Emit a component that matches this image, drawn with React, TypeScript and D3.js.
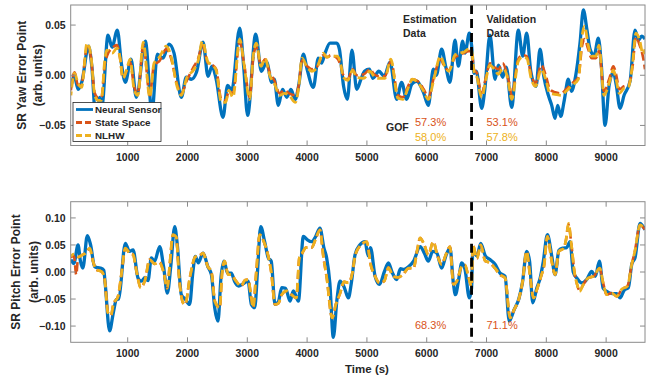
import React from 'react'
import * as d3 from 'd3'

type Pt = [number, number]

// ---- data (time in s, value in arb. units) ----
const xTicks = [1000, 2000, 3000, 4000, 5000, 6000, 7000, 8000, 9000]
const yawTicks = [-0.05, 0, 0.05]
const pitchTicks = [-0.1, -0.05, 0, 0.05, 0.1]
const splitTime = 6750
const legendNames = ['Neural Sensor', 'State Space', 'NLHW']
const yawGofSS = ['57.3%', '53.1%']
const yawGofNLHW = ['58.0%', '57.8%']
const pitchGofSS = ['68.3%', '71.1%']

const yawNeural: Pt[] = [
  [50, -0.011], [110, -0.001], [170, -0.014], [236, -0.006], [345, 0.029], [400, 0.009], [476, -0.052],
  [530, -0.022], [570, -0.03], [671, 0.04], [738, 0.028], [827, 0.045], [894, 0.012], [961, -0.007],
  [1055, 0.016], [1144, -0.022], [1295, 0.034], [1406, -0.037], [1495, 0.021], [1590, 0.017], [1691, 0.031],
  [1775, 0.022], [1897, -0.022], [1980, -0.002], [2065, -0.004], [2150, 0.003], [2260, 0.033], [2343, -0.001],
  [2410, 0.009], [2480, -0.004], [2594, -0.042], [2670, -0.01], [2740, -0.015], [2873, 0.047], [2940, 0.008],
  [3005, -0.04], [3140, 0.041], [3235, 0.004], [3324, 0.013], [3408, -0.007], [3450, -0.004], [3519, -0.03],
  [3590, -0.014], [3660, -0.022], [3730, -0.014], [3800, -0.024], [3860, -0.01], [3937, 0.021], [4000, 0.006],
  [4104, -0.012], [4188, 0.017], [4240, 0.012], [4300, 0.022], [4383, 0.032], [4495, 0.032], [4540, 0.026],
  [4610, -0.011], [4673, -0.024], [4750, 0.025], [4829, -0.014], [4900, -0.004], [4960, 0.004], [5041, 0.006],
  [5100, -0.003], [5200, 0.004], [5290, -0.001], [5386, 0.013], [5498, -0.024], [5580, -0.007], [5665, -0.024],
  [5750, -0.009], [5835, -0.006], [5945, -0.017], [6027, -0.03], [6110, 0.006], [6160, 0.0], [6250, 0.026],
  [6320, 0.008], [6389, -0.007], [6473, 0.035], [6529, 0.009], [6602, 0.034], [6640, 0.022], [6713, 0.042],
  [6750, 0.03], [6790, 0.002], [6830, 0.004], [6919, -0.033], [6970, -0.015], [7058, 0.04], [7142, -0.004],
  [7200, 0.01], [7270, -0.002], [7330, 0.008], [7421, -0.032], [7532, 0.045], [7605, 0.019], [7672, 0.042],
  [7740, 0.004], [7828, -0.011], [7895, 0.026], [7960, -0.002], [8034, -0.02], [8090, -0.03], [8146, -0.043],
  [8190, -0.03], [8240, -0.041], [8300, -0.025], [8368, -0.004], [8420, -0.016], [8480, -0.004], [8563, 0.032],
  [8619, 0.065], [8680, 0.045], [8731, 0.026], [8800, 0.02], [8870, 0.037], [8920, 0.01], [8982, -0.05],
  [9050, -0.01], [9121, 0.003], [9170, -0.01], [9233, -0.033], [9300, -0.02], [9400, -0.006], [9483, 0.045],
  [9540, 0.035], [9595, 0.039], [9650, 0.036],
]

const yawSS: Pt[] = [
  [50, -0.015], [110, 0.003], [170, -0.01], [230, -0.008], [320, 0.028], [380, 0.02], [450, -0.018], [500, -0.022],
  [560, -0.022], [615, 0.01], [660, 0.02], [740, 0.027], [820, 0.03], [870, 0.018], [921, -0.003], [980, 0.004],
  [1040, 0.013], [1110, -0.012], [1170, -0.018], [1260, 0.03], [1370, -0.02], [1440, 0.01], [1530, 0.014],
  [1646, 0.026], [1720, 0.018], [1830, -0.01], [1897, -0.018], [1990, -0.005], [2100, 0.008], [2176, 0.016],
  [2250, 0.03], [2343, 0.012], [2420, 0.01], [2480, 0.006], [2566, -0.024], [2640, -0.025], [2690, -0.016],
  [2760, -0.018], [2873, 0.033], [2950, 0.01], [3040, -0.022], [3100, 0.018], [3150, 0.028], [3230, 0.01],
  [3296, 0.016], [3380, 0.002], [3450, -0.005], [3541, -0.018], [3620, -0.015], [3700, -0.018], [3804, -0.02],
  [3860, -0.01], [3915, 0.015], [4000, 0.009], [4080, 0.006], [4160, 0.008], [4271, 0.02], [4330, 0.018],
  [4400, 0.02], [4500, 0.017], [4560, 0.01], [4606, 0.0], [4680, -0.004], [4760, 0.006], [4829, 0.0],
  [4950, 0.001], [5050, 0.006], [5120, 0.001], [5200, -0.001], [5300, -0.001], [5400, 0.014], [5520, -0.02],
  [5600, -0.022], [5680, -0.012], [5760, -0.004], [5850, -0.006], [5950, -0.014], [6027, -0.022], [6120, -0.002],
  [6230, 0.016], [6300, 0.008], [6370, 0.005], [6473, 0.018], [6550, 0.02], [6620, 0.022], [6700, 0.024],
  [6750, 0.024], [6790, 0.006], [6840, 0.002], [6919, -0.018], [6990, -0.002], [7058, 0.012], [7130, 0.008],
  [7200, 0.006], [7270, 0.012], [7330, 0.004], [7380, -0.008], [7421, -0.02], [7532, 0.016], [7600, 0.02],
  [7672, 0.019], [7750, 0.0], [7817, -0.008], [7917, 0.01], [7990, 0.0], [8060, -0.014], [8150, -0.017],
  [8250, -0.018], [8330, -0.014], [8430, -0.008], [8535, -0.002], [8600, 0.03], [8640, 0.036], [8700, 0.026],
  [8760, 0.017], [8830, 0.017], [8880, 0.024], [8965, -0.016], [9050, -0.004], [9121, 0.009], [9170, 0.0],
  [9220, -0.014], [9300, -0.011], [9370, -0.01], [9440, 0.008], [9500, 0.038], [9560, 0.03], [9617, 0.018],
  [9650, 0.006],
]

const yawNLHW: Pt[] = [
  [50, -0.02], [110, 0.002], [170, -0.008], [230, -0.012], [320, 0.032], [380, 0.022], [450, -0.02], [500, -0.025],
  [560, -0.025], [615, 0.014], [650, 0.025], [740, 0.022], [820, 0.027], [870, 0.018], [921, -0.003], [980, 0.005],
  [1040, 0.016], [1110, -0.015], [1170, -0.02], [1260, 0.033], [1370, -0.022], [1440, 0.012], [1530, 0.018],
  [1646, 0.029], [1720, 0.02], [1830, -0.012], [1897, -0.02], [1990, -0.002], [2100, 0.005], [2176, 0.014],
  [2250, 0.034], [2343, 0.013], [2420, 0.01], [2480, 0.005], [2566, -0.027], [2640, -0.027], [2690, -0.015],
  [2760, -0.022], [2873, 0.036], [2950, 0.009], [3040, -0.024], [3100, 0.02], [3150, 0.032], [3230, 0.009],
  [3296, 0.017], [3380, -0.001], [3450, -0.008], [3541, -0.02], [3620, -0.018], [3700, -0.02], [3804, -0.027],
  [3860, -0.012], [3915, 0.017], [4000, 0.008], [4080, 0.004], [4160, 0.007], [4271, 0.022], [4330, 0.018],
  [4400, 0.019], [4500, 0.019], [4560, 0.012], [4606, -0.002], [4680, -0.005], [4760, 0.005], [4829, -0.002],
  [4950, -0.003], [5050, 0.004], [5120, -0.001], [5200, -0.003], [5300, -0.003], [5400, 0.016], [5520, -0.023],
  [5600, -0.024], [5680, -0.014], [5760, -0.004], [5850, -0.007], [5950, -0.016], [6027, -0.024], [6120, -0.004],
  [6230, 0.019], [6300, 0.009], [6370, 0.004], [6473, 0.02], [6550, 0.022], [6620, 0.023], [6700, 0.026],
  [6750, 0.025], [6790, 0.004], [6840, -0.002], [6919, -0.022], [6990, -0.004], [7058, 0.01], [7130, 0.006],
  [7200, 0.001], [7270, 0.007], [7330, 0.002], [7380, -0.012], [7421, -0.024], [7532, 0.014], [7600, 0.018],
  [7672, 0.017], [7750, -0.004], [7817, -0.011], [7917, 0.006], [7990, -0.004], [8060, -0.018], [8150, -0.019],
  [8250, -0.02], [8330, -0.016], [8430, -0.01], [8535, -0.004], [8600, 0.04], [8640, 0.049], [8700, 0.03],
  [8760, 0.019], [8830, 0.019], [8880, 0.03], [8965, -0.02], [9050, -0.008], [9121, 0.005], [9170, -0.005],
  [9220, -0.018], [9300, -0.013], [9370, -0.012], [9440, 0.01], [9500, 0.042], [9560, 0.035], [9617, 0.021],
  [9650, 0.026],
]

const pitchNeural: Pt[] = [
  [50, 0.023], [100, 0.016], [170, 0.05], [210, 0.02], [250, 0.007], [325, 0.067], [380, 0.05], [447, 0.01],
  [500, 0.008], [560, 0.007], [600, 0.003], [625, -0.023], [697, -0.109], [760, -0.075], [810, -0.051],
  [850, -0.05], [960, 0.053], [1030, 0.038], [1090, 0.041], [1172, -0.011], [1228, -0.017], [1290, -0.01],
  [1340, -0.016], [1395, 0.026], [1450, 0.02], [1535, 0.047], [1600, 0.01], [1663, -0.039], [1720, 0.01],
  [1786, 0.084], [1830, 0.05], [1897, -0.042], [1960, -0.05], [2036, -0.06], [2090, 0.0], [2131, 0.029],
  [2180, 0.017], [2260, 0.035], [2340, 0.01], [2400, -0.005], [2455, -0.066], [2510, -0.091], [2560, -0.01],
  [2610, 0.02], [2670, -0.002], [2733, -0.002], [2790, -0.018], [2856, -0.026], [2930, -0.022], [3012, -0.017],
  [3068, -0.06], [3124, -0.066], [3170, 0.0], [3224, 0.084], [3290, 0.056], [3351, 0.026], [3400, 0.02],
  [3463, -0.06], [3520, -0.055], [3575, -0.029], [3640, -0.03], [3714, -0.054], [3770, -0.035], [3854, -0.054],
  [3937, 0.066], [4000, 0.06], [4076, 0.056], [4140, 0.065], [4215, 0.081], [4280, 0.045], [4327, 0.026],
  [4380, -0.02], [4438, -0.121], [4500, -0.05], [4550, -0.017], [4620, -0.028], [4690, -0.048], [4740, -0.02],
  [4802, 0.032], [4880, 0.05], [4969, 0.056], [5020, 0.03], [5060, 0.045], [5137, -0.008], [5210, -0.023],
  [5290, 0.0], [5360, 0.017], [5420, 0.0], [5498, -0.014], [5560, 0.006], [5620, 0.005], [5700, 0.01],
  [5780, 0.02], [5890, 0.047], [5960, 0.035], [6027, 0.02], [6100, 0.038], [6170, 0.035], [6250, 0.007],
  [6320, 0.03], [6390, 0.044], [6445, -0.02], [6480, -0.042], [6540, -0.01], [6585, 0.017], [6640, 0.005],
  [6713, -0.048], [6750, -0.03], [6770, 0.038], [6840, 0.03], [6903, 0.053], [6980, 0.03], [7058, 0.023],
  [7140, 0.015], [7226, -0.002], [7310, -0.008], [7380, -0.091], [7460, -0.07], [7540, -0.05], [7600, -0.02],
  [7672, 0.038], [7720, 0.02], [7773, -0.057], [7840, -0.03], [7900, -0.01], [7950, 0.02], [8018, 0.069],
  [8090, 0.03], [8146, -0.005], [8210, 0.04], [8274, 0.044], [8340, 0.045], [8397, 0.056], [8450, 0.0],
  [8508, -0.011], [8590, -0.02], [8675, -0.014], [8759, 0.001], [8820, -0.008], [8888, 0.02], [8950, -0.03],
  [9010, -0.036], [9100, -0.04], [9180, -0.04], [9233, -0.048], [9300, -0.034], [9372, -0.029], [9430, 0.015],
  [9483, 0.026], [9567, 0.09], [9650, 0.078],
]

const pitchSS: Pt[] = [
  [50, 0.027], [100, 0.03], [140, -0.005], [170, 0.026], [250, 0.032], [300, 0.035], [365, 0.044], [420, 0.02],
  [475, 0.004], [560, 0.001], [610, -0.01], [670, -0.075], [720, -0.08], [760, -0.06], [838, -0.045], [900, 0.0],
  [960, 0.044], [1030, 0.035], [1090, 0.032], [1150, 0.0], [1217, -0.029], [1290, -0.015], [1367, 0.023],
  [1450, 0.015], [1530, 0.018], [1600, 0.0], [1663, -0.03], [1700, 0.01], [1758, 0.069], [1810, 0.065],
  [1860, -0.01], [1925, -0.057], [1960, -0.06], [2040, -0.01], [2131, 0.028], [2200, 0.03], [2260, 0.035],
  [2340, 0.01], [2400, 0.0], [2460, -0.055], [2538, -0.066], [2580, 0.0], [2620, 0.02], [2680, -0.005],
  [2733, -0.005], [2800, -0.015], [2900, -0.026], [2960, -0.015], [3012, -0.014], [3070, -0.05], [3096, -0.066],
  [3150, 0.0], [3207, 0.069], [3280, 0.055], [3351, 0.029], [3400, 0.0], [3463, -0.06], [3520, -0.058],
  [3575, -0.042], [3660, -0.035], [3740, -0.042], [3820, -0.048], [3870, 0.026], [3920, 0.035], [3980, 0.045],
  [4076, 0.045], [4140, 0.06], [4215, 0.078], [4270, 0.03], [4327, -0.01], [4420, -0.085], [4480, -0.06],
  [4550, -0.04], [4620, -0.018], [4690, -0.02], [4760, 0.0], [4802, 0.03], [4900, 0.05], [4997, 0.056],
  [5060, 0.015], [5137, -0.008], [5210, -0.02], [5290, -0.017], [5360, 0.008], [5440, -0.008], [5520, -0.01],
  [5600, -0.005], [5700, 0.007], [5780, 0.007], [5840, 0.04], [5890, 0.063], [5960, 0.05], [6027, 0.032],
  [6110, 0.056], [6180, 0.03], [6250, 0.014], [6320, 0.032], [6390, 0.047], [6445, -0.023], [6500, -0.018],
  [6585, 0.01], [6640, 0.013], [6700, -0.01], [6750, -0.026], [6770, 0.05], [6840, 0.025], [6903, 0.05],
  [6980, 0.02], [7058, 0.017], [7140, 0.007], [7226, -0.005], [7310, -0.011], [7395, -0.085], [7460, -0.07],
  [7540, -0.05], [7600, -0.02], [7672, 0.038], [7720, 0.0], [7786, -0.048], [7850, -0.03], [7920, -0.005],
  [7960, 0.01], [8018, 0.066], [8090, 0.02], [8146, -0.005], [8210, 0.038], [8290, 0.044], [8330, 0.06],
  [8370, 0.088], [8420, 0.05], [8470, 0.0], [8520, -0.025], [8554, -0.034], [8620, -0.023], [8700, -0.011],
  [8790, -0.008], [8893, 0.007], [8950, -0.02], [9010, -0.042], [9090, -0.039], [9180, -0.045], [9260, -0.032],
  [9356, -0.026], [9430, 0.015], [9480, 0.038], [9567, 0.087], [9650, 0.078],
]

const pitchNLHW: Pt[] = [
  [50, 0.029], [100, 0.033], [170, 0.028], [250, 0.032], [300, 0.035], [365, 0.044], [420, 0.02], [475, 0.004],
  [560, 0.001], [610, -0.01], [670, -0.075], [720, -0.08], [760, -0.06], [838, -0.045], [900, 0.0], [960, 0.044],
  [1030, 0.035], [1090, 0.032], [1150, 0.0], [1217, -0.029], [1290, -0.015], [1367, 0.023], [1450, 0.015],
  [1530, 0.018], [1600, 0.0], [1663, -0.03], [1700, 0.01], [1758, 0.069], [1810, 0.065], [1860, -0.01],
  [1925, -0.057], [1960, -0.06], [2040, -0.01], [2131, 0.028], [2200, 0.03], [2260, 0.035], [2340, 0.01],
  [2400, 0.0], [2460, -0.055], [2538, -0.066], [2580, 0.0], [2620, 0.02], [2680, -0.005], [2733, -0.005],
  [2800, -0.015], [2900, -0.026], [2960, -0.015], [3012, -0.014], [3070, -0.05], [3096, -0.066], [3150, 0.0],
  [3207, 0.069], [3280, 0.055], [3351, 0.029], [3400, 0.0], [3463, -0.06], [3520, -0.058], [3575, -0.042],
  [3660, -0.035], [3740, -0.042], [3820, -0.048], [3870, 0.026], [3920, 0.035], [3980, 0.045], [4076, 0.045],
  [4140, 0.06], [4215, 0.078], [4270, 0.03], [4327, -0.01], [4420, -0.085], [4480, -0.06], [4550, -0.04],
  [4620, -0.018], [4690, -0.02], [4760, 0.0], [4802, 0.03], [4900, 0.05], [4997, 0.056], [5060, 0.015],
  [5137, -0.008], [5210, -0.02], [5290, -0.017], [5360, 0.008], [5440, -0.008], [5520, -0.01], [5600, -0.005],
  [5700, 0.007], [5780, 0.007], [5840, 0.04], [5890, 0.063], [5960, 0.05], [6027, 0.032], [6110, 0.056],
  [6180, 0.03], [6250, 0.014], [6320, 0.032], [6390, 0.047], [6445, -0.023], [6500, -0.018], [6585, 0.01],
  [6640, 0.013], [6700, -0.01], [6750, -0.026], [6770, 0.05], [6840, 0.025], [6903, 0.05], [6980, 0.02],
  [7058, 0.017], [7140, 0.007], [7226, -0.005], [7310, -0.011], [7395, -0.085], [7460, -0.07], [7540, -0.05],
  [7600, -0.02], [7672, 0.038], [7720, 0.0], [7786, -0.048], [7850, -0.03], [7920, -0.005], [7960, 0.01],
  [8018, 0.066], [8090, 0.02], [8146, -0.005], [8210, 0.038], [8290, 0.044], [8330, 0.06], [8370, 0.09],
  [8420, 0.05], [8470, 0.0], [8520, -0.025], [8554, -0.036], [8620, -0.023], [8700, -0.011], [8790, -0.008],
  [8893, 0.007], [8950, -0.02], [9010, -0.042], [9090, -0.039], [9180, -0.045], [9260, -0.032], [9356, -0.026],
  [9430, 0.015], [9480, 0.038], [9567, 0.087], [9650, 0.078],
]

// ---- layout ----
const W = 655, H = 381
const left = 70.7, right = 645
const BLUE = '#0072BD', RED = '#D95319', YELLOW = '#EDB120'
const FONT = '"Liberation Sans", Arial, Helvetica, sans-serif'

const x = d3.scaleLinear().domain([47, 9650]).range([left, right])

function Panel({ top, bottom, yDomain, yTicks, neural, ss, nlhw, labels, id }: {
  top: number, bottom: number, yDomain: [number, number], yTicks: number[],
  neural: Pt[], ss: Pt[], nlhw: Pt[], labels: [string, string, number, number], id: string
}) {
  const y = d3.scaleLinear().domain(yDomain).range([bottom, top])
  const line = d3.line<Pt>().x(d => x(d[0])).y(d => y(d[1])).curve(d3.curveMonotoneX)
  const fmt = d3.format('.2f')
  const cy = (top + bottom) / 2
  return (
    <g>
      <defs>
        <clipPath id={id}><rect x={left} y={top} width={right - left} height={bottom - top} /></clipPath>
      </defs>
      <g clipPath={`url(#${id})`}>
        <path d={line(neural) ?? ''} fill="none" stroke={BLUE} strokeWidth={3.3} strokeLinejoin="round" />
        <path d={line(ss) ?? ''} fill="none" stroke={RED} strokeWidth={2.6} strokeDasharray="9,4" />
        <path d={line(nlhw) ?? ''} fill="none" stroke={YELLOW} strokeWidth={2.8} strokeDasharray="9,4" strokeDashoffset={5} />
        <line x1={x(splitTime)} x2={x(splitTime)} y1={top} y2={bottom} stroke="#000" strokeWidth={2.8} strokeDasharray="9,5" />
      </g>
      <rect x={left} y={top} width={right - left} height={bottom - top} fill="none" stroke="#8a8a8a" strokeWidth={1} />
      {xTicks.map(t => (
        <g key={t}>
          <line x1={x(t)} x2={x(t)} y1={bottom} y2={bottom - 5} stroke="#8a8a8a" />
          <line x1={x(t)} x2={x(t)} y1={top} y2={top + 5} stroke="#8a8a8a" />
          <text x={x(t)} y={bottom + 15} textAnchor="middle" fontSize={10.5} fontWeight="bold" fill="#262626">{t}</text>
        </g>
      ))}
      {yTicks.map(v => (
        <g key={v}>
          <line x1={left} x2={left + 5} y1={y(v)} y2={y(v)} stroke="#8a8a8a" />
          <line x1={right} x2={right - 5} y1={y(v)} y2={y(v)} stroke="#8a8a8a" />
          <text x={left - 5} y={y(v) + 4} textAnchor="end" fontSize={10.5} fontWeight="bold" fill="#262626">{fmt(v)}</text>
        </g>
      ))}
      <text transform={`translate(${labels[2]},${cy}) rotate(-90)`} textAnchor="middle" fontSize={12} fontWeight="bold" fill="#262626">{labels[0]}</text>
      <text transform={`translate(${labels[3]},${cy}) rotate(-90)`} textAnchor="middle" fontSize={12} fontWeight="bold" fill="#262626">{labels[1]}</text>
    </g>
  )
}

export default function App() {
  const legendColors = [BLUE, RED, YELLOW]
  return (
    <div style={{ position: 'fixed', left: 0, top: 0, width: W, height: H, background: '#fff' }}>
      <svg width={W} height={H} style={{ fontFamily: FONT, display: 'block' }}>
        <rect width={W} height={H} fill="#fff" />
        <Panel id="c1" top={5} bottom={145.5} yDomain={[-0.07, 0.07]} yTicks={yawTicks}
          neural={yawNeural} ss={yawSS} nlhw={yawNLHW} labels={['SR Yaw Error Point', '(arb. units)', 25.5, 42]} />
        <Panel id="c2" top={201.7} bottom={342.3} yDomain={[-0.13, 0.13]} yTicks={pitchTicks}
          neural={pitchNeural} ss={pitchSS} nlhw={pitchNLHW} labels={['SR Pitch Error Point', '(arb. units)', 20, 37.5]} />

        {/* annotations */}
        <g fontSize={10.5} fontWeight="bold" fill="#262626">
          <text x={403} y={23}>Estimation</text>
          <text x={403} y={37}>Data</text>
          <text x={486.5} y={23}>Validation</text>
          <text x={486.5} y={37}>Data</text>
          <text x={386} y={131}>GOF</text>
        </g>
        <g fontSize={11}>
          <text x={415} y={126} fill={RED}>{yawGofSS[0]}</text>
          <text x={415} y={141} fill={YELLOW}>{yawGofNLHW[0]}</text>
          <text x={486.5} y={126} fill={RED}>{yawGofSS[1]}</text>
          <text x={486.5} y={141} fill={YELLOW}>{yawGofNLHW[1]}</text>
          <text x={415} y={329} fill={RED}>{pitchGofSS[0]}</text>
          <text x={486.5} y={329} fill={RED}>{pitchGofSS[1]}</text>
        </g>

        {/* legend */}
        <g>
          <rect x={73} y={102.5} width={88} height={39} fill="#fff" stroke="#262626" strokeWidth={0.8} />
          {legendNames.map((n, i) => (
            <g key={n}>
              <line x1={76} x2={93} y1={109.5 + i * 13} y2={109.5 + i * 13} stroke={legendColors[i]} strokeWidth={2.8}
                strokeDasharray={i === 0 ? undefined : '6,3'} />
              <text x={95} y={113 + i * 13} fontSize={9.8} fontWeight="bold" fill="#262626">{n}</text>
            </g>
          ))}
        </g>

        <text x={367} y={373} textAnchor="middle" fontSize={11.5} fontWeight="bold" fill="#262626">Time (s)</text>
      </svg>
    </div>
  )
}
